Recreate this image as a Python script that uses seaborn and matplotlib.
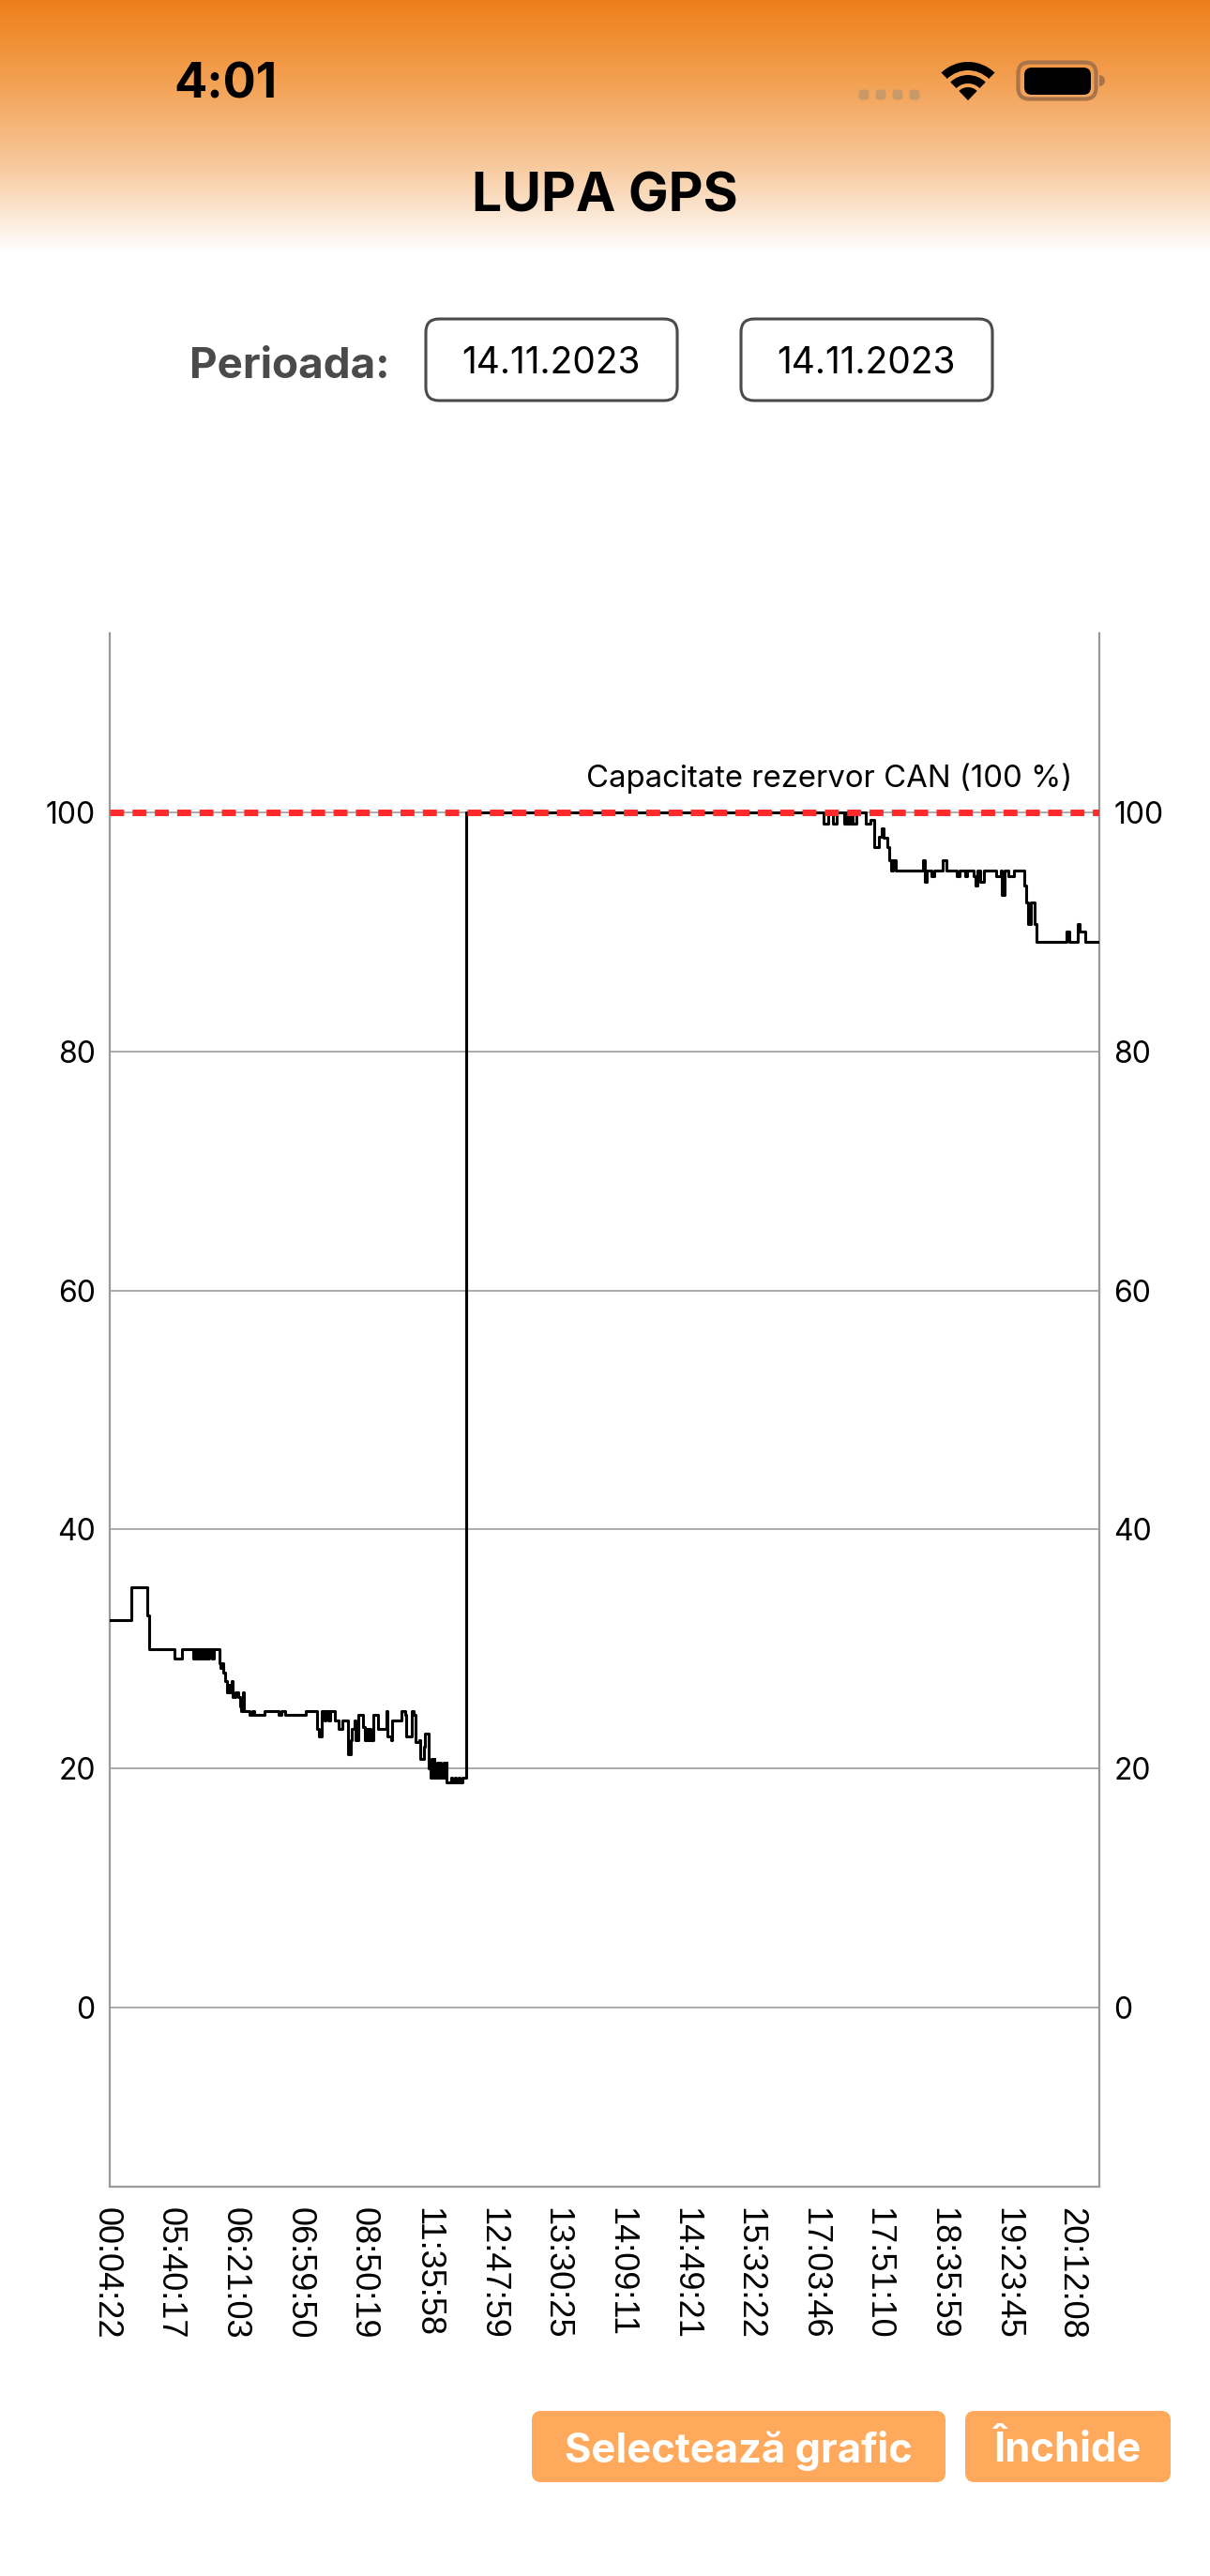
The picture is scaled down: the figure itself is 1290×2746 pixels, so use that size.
import matplotlib
matplotlib.use('Agg')
import matplotlib.pyplot as plt
import numpy as np
import seaborn as sns
from matplotlib.colors import LinearSegmentedColormap
from matplotlib.patches import FancyBboxPatch, Wedge

# sample number where each step starts, and the fuel level from there on
morning_samples = [0, 34, 59, 61, 101, 112, 130, 132, 134, 136,
                   138, 141, 144, 146, 148, 150, 152, 155, 159, 162,
                   170, 172, 174, 177, 180, 182, 185, 187, 189, 191,
                   196, 200, 202, 204, 207, 209, 217, 221, 225, 241,
                   262, 267, 273, 305, 322, 325, 330, 334, 336, 340,
                   342, 350, 355, 362, 370, 374, 376, 380, 382, 386,
                   393, 396, 398, 401, 403, 406, 410, 417, 427, 430,
                   432, 437, 439, 454, 459, 461, 469, 472, 475, 481,
                   483, 488, 490, 496, 498, 500, 502, 504, 505, 509,
                   511, 513, 515, 519, 521, 523, 524, 530, 532, 536,
                   538, 542, 544, 548, 554]
morning_fuel = [32.4, 35.2, 32.8, 30.0, 29.2, 30.0, 29.2, 30.0, 29.2, 30.0,
                29.2, 30.0, 29.2, 30.0, 29.2, 30.0, 29.2, 30.0, 29.2, 30.0,
                28.8, 28.4, 28.8, 28.0, 27.3, 26.4, 27.0, 26.4, 27.3, 26.0,
                26.4, 26.0, 25.2, 24.8, 26.4, 24.8, 24.5, 24.8, 24.5, 24.8,
                24.5, 24.8, 24.5, 24.8, 23.3, 22.7, 24.8, 24.0, 24.8, 24.0,
                24.8, 24.0, 23.3, 24.0, 21.2, 22.4, 23.3, 24.0, 22.4, 24.5,
                23.5, 22.4, 23.3, 22.4, 23.3, 22.4, 24.5, 23.3, 23.3, 24.8,
                22.7, 22.4, 24.0, 24.8, 24.5, 22.7, 24.8, 24.5, 22.2, 22.4,
                20.8, 21.8, 22.9, 20.0, 19.2, 20.8, 19.2, 20.8, 19.2, 20.5,
                19.2, 20.5, 19.2, 20.5, 19.2, 20.5, 18.8, 19.2, 18.8, 19.2,
                18.8, 19.2, 18.8, 19.2, 100.0]
evening_samples = [1110, 1117, 1124, 1130, 1141, 1144, 1146, 1149, 1151, 1154,
                   1155, 1160, 1175, 1183, 1188, 1195, 1200, 1202, 1209, 1212,
                   1214, 1217, 1222, 1264, 1267, 1270, 1277, 1282, 1295, 1300,
                   1316, 1321, 1329, 1333, 1342, 1346, 1349, 1353, 1358, 1377,
                   1385, 1387, 1391, 1396, 1405, 1421, 1424, 1427, 1431, 1438,
                   1440, 1487, 1491, 1504, 1508, 1516, 1538]
evening_fuel = [99.1, 100.0, 99.1, 100.0, 99.1, 100.0, 99.1, 100.0, 99.1, 100.0,
                99.1, 100.0, 99.1, 99.4, 97.1, 98.0, 98.7, 97.9, 97.1, 96.0,
                95.1, 96.0, 95.1, 96.0, 94.2, 95.1, 94.7, 95.1, 96.0, 95.1,
                94.7, 95.1, 94.7, 95.1, 94.7, 93.9, 95.1, 94.2, 95.1, 94.7,
                95.1, 93.1, 95.1, 94.7, 95.1, 93.9, 92.5, 90.7, 92.5, 90.7,
                89.2, 90.0, 89.2, 90.7, 90.0, 89.2, 89.2]

tick_labels = ['00:04:22', '05:40:17', '06:21:03', '06:59:50', '08:50:19', '11:35:58', '12:47:59', '13:30:25',
               '14:09:11', '14:49:21', '15:32:22', '17:03:46', '17:51:10', '18:35:59', '19:23:45', '20:12:08']
y_ticks = [0, 20, 40, 60, 80, 100]
ref_level = 100
ref_label = 'Capacitate rezervor CAN (100 %)'

W, H = 1290, 2746
sns.set_theme(style='white')
plt.rcParams['font.family'] = ['Liberation Sans', 'DejaVu Sans']
fig = plt.figure(figsize=(W / 100, H / 100), dpi=100, facecolor='white')

# screen layer, in pixels
ui = fig.add_axes([0, 0, 1, 1])
ui.axis('off')
cmap = LinearSegmentedColormap.from_list('head', ['#EF7F1A', '#F3A255', '#F8CBA0', '#FFFFFF'])
ui.imshow(np.linspace(0, 1, 256).reshape(-1, 1), extent=[0, W, 270, 0], cmap=cmap, aspect='auto')
ui.set_xlim(0, W)
ui.set_ylim(H, 0)

ui.text(240, 91, '4:01', ha='center', va='center', fontsize=37.5, fontweight='bold', family='Inter', color='black')
ui.text(645, 210, 'LUPA GPS', ha='center', va='center', fontsize=41, fontweight='bold', family='Inter', color='black')
ui.text(309, 391, 'Perioada:', ha='center', va='center', fontsize=33, fontweight='bold', family='Inter', color='#4A4A4A')

for cx in [921, 939, 957, 975]:
    ui.add_patch(FancyBboxPatch((cx - 5.5, 95.5), 11, 11, boxstyle='round,pad=0,rounding_size=4', fc='#C99A68', ec='none'))
ui.add_patch(Wedge((1032, 107), 41, 226, 314, width=9, fc='black', ec='none'))
ui.add_patch(Wedge((1032, 107), 27, 226, 314, width=9, fc='black', ec='none'))
ui.add_patch(Wedge((1032, 107), 14, 226, 314, fc='black', ec='none'))
ui.add_patch(FancyBboxPatch((1085.5, 66.5), 83, 39, boxstyle='round,pad=0,rounding_size=12', fc='none', ec='#A9744A', lw=3))
ui.add_patch(FancyBboxPatch((1092, 72), 71, 29, boxstyle='round,pad=0,rounding_size=8', fc='black', ec='none'))
ui.add_patch(Wedge((1172, 86), 6, 270, 90, fc='#A9744A', ec='none'))

for x0, x1 in [(454, 722), (790, 1058)]:
    ui.add_patch(FancyBboxPatch((x0, 340), x1 - x0, 87, boxstyle='round,pad=0,rounding_size=14',
                                fc='white', ec='#4A4A4A', lw=2.2))
    ui.text((x0 + x1) / 2 - 1, 387, '14.11.2023', ha='center', va='center', fontsize=28, family='Inter', color='black')

for x0, x1, label in [(567, 1008, 'Selectează grafic'), (1029, 1248, 'Închide')]:
    ui.add_patch(FancyBboxPatch((x0, 2570), x1 - x0, 76, boxstyle='round,pad=0,rounding_size=10',
                                fc='#FFA95C', ec='none'))
    ui.text((x0 + x1) / 2, 2613, label, ha='center', va='center', fontsize=31.3, fontweight='bold',
            family='Inter', color='white')

# chart
ax = fig.add_axes([117 / W, 1 - 2331 / H, 1055 / W, 1656 / H])
ax.patch.set_alpha(0)
ax.yaxis.grid(True, color='#ABABAB', lw=1.4)
ax.set_axisbelow(True)
sns.lineplot(x=morning_samples + evening_samples, y=morning_fuel + evening_fuel, drawstyle='steps-post',
             estimator=None, sort=False, color='black', lw=2.2, ax=ax, zorder=3)
ax.axhline(ref_level, color='#FF2A2A', lw=5, dashes=(15 / 7, 9 / 7), dash_capstyle='butt', zorder=4)

ax.set_xlim(0, evening_samples[-1])
ax.set_ylim(-15, 115)
ax.set_xticks([i * 100 for i in range(len(tick_labels))])
ax.set_xticklabels(tick_labels, rotation=-90, ha='left', va='center_baseline', rotation_mode='anchor',
                   fontsize=26, color='black')
ax.set_yticks(y_ticks)
ax.tick_params(axis='y', left=False, right=False, labelleft=True, labelright=True, labelsize=23,
               labelcolor='black', pad=5)
for lab in ax.get_yticklabels() + [t.label2 for t in ax.yaxis.get_major_ticks()]:
    lab.set_family('Inter')
ax.tick_params(axis='x', bottom=False, pad=10)
for name in ['left', 'right', 'bottom']:
    ax.spines[name].set_color('#9A9A9A')
    ax.spines[name].set_linewidth(1.6)
ax.spines['top'].set_visible(False)
ax.annotate(ref_label, xy=(1, ref_level), xycoords=('axes fraction', 'data'), xytext=(-21, 26),
            textcoords='offset points', ha='right', va='center', fontsize=23.7, family='Inter', color='black')

fig.savefig('out.png', dpi=100)
